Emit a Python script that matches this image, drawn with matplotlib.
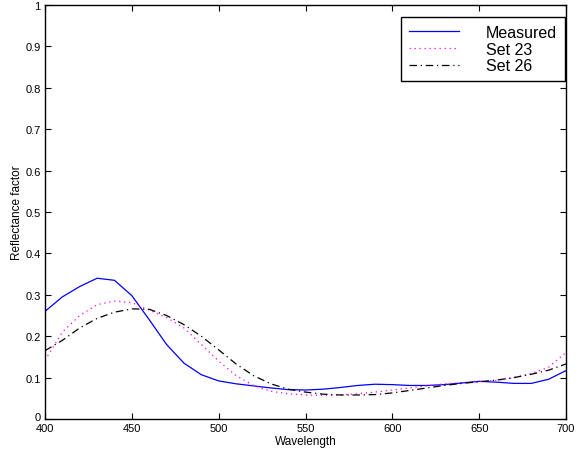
import matplotlib
matplotlib.use("Agg")
import matplotlib.pyplot as plt
from matplotlib.transforms import ScaledTranslation

plt.rcParams['font.family'] = ['Liberation Sans', 'DejaVu Sans']

wavelength = list(range(400, 701, 10))
measured = [0.26, 0.295, 0.32, 0.34, 0.335, 0.298, 0.24, 0.18, 0.135, 0.107,
            0.092, 0.085, 0.080, 0.075, 0.071, 0.070, 0.072, 0.076, 0.081, 0.084,
            0.083, 0.081, 0.081, 0.083, 0.087, 0.091, 0.089, 0.086, 0.086, 0.096, 0.117]
set23 = [0.142, 0.21, 0.25, 0.276, 0.285, 0.281, 0.263, 0.245, 0.22, 0.18,
         0.14, 0.105, 0.081, 0.067, 0.061, 0.058, 0.057, 0.058, 0.061, 0.065,
         0.070, 0.075, 0.080, 0.085, 0.088, 0.090, 0.093, 0.100, 0.110, 0.125, 0.161]
set26 = [0.165, 0.19, 0.22, 0.243, 0.258, 0.266, 0.265, 0.25, 0.228, 0.20,
         0.167, 0.133, 0.105, 0.085, 0.072, 0.065, 0.060, 0.058, 0.058, 0.059,
         0.063, 0.069, 0.075, 0.081, 0.086, 0.090, 0.094, 0.100, 0.108, 0.118, 0.133]
labels = ["Measured", "Set 23", "Set 26"]

fig = plt.figure(figsize=(5.79, 4.52), dpi=100)
ax = fig.add_axes([45/579, 32/452, 521/579, 414/452])

ax.plot(wavelength, measured, color='#0000ff', lw=0.9, ls='-', label=labels[0])
ax.plot(wavelength, set23, color='#ff00ff', lw=0.9, ls=(0, (1, 3)), label=labels[1])
ax.plot(wavelength, set26, color='black', lw=0.9, ls=(0, (6, 3, 1, 3)), label=labels[2])

ax.set_xlim(400, 700)
ax.set_ylim(0, 1)
ax.set_xticks(range(400, 701, 50))
ax.set_yticks([i/10 for i in range(11)])
ax.set_yticklabels(['0'] + ['0.%d' % i for i in range(1, 10)] + ['1'])
ax.tick_params(direction='in', top=True, right=True, length=4, width=0.8,
               labelsize=8, pad=3)
for s in ax.spines.values():
    s.set_linewidth(1.0)
ax.set_xlabel("Wavelength", fontsize=8.5, labelpad=1)
ax.set_ylabel("Reflectance factor", fontsize=8.5, labelpad=2)

# nudge the corner "0" label up slightly, as in the reference
ylab0 = ax.get_yticklabels()[0]
ylab0.set_transform(ylab0.get_transform() + ScaledTranslation(0, 3/100, fig.dpi_scale_trans))

leg = ax.legend(loc='upper right', bbox_to_anchor=(0.998, 0.971),
                fontsize=11.5, frameon=True, fancybox=False,
                edgecolor='black', framealpha=1, handlelength=3.1,
                handletextpad=1.7, labelspacing=0.1, borderpad=0.5,
                borderaxespad=0)
leg.get_frame().set_linewidth(1.0)

fig.savefig("out.png", dpi=100)
